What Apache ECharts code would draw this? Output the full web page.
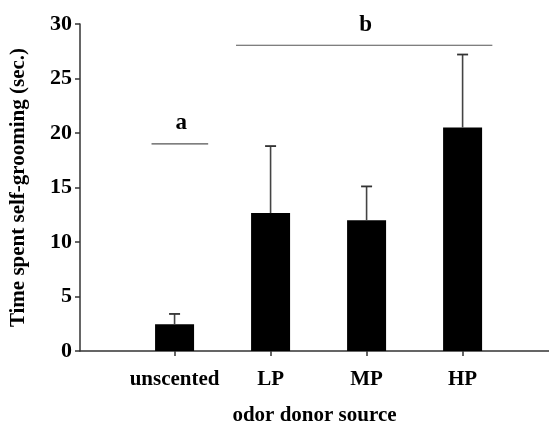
<!DOCTYPE html>
<html>
<head>
<meta charset="utf-8">
<script src="https://cdn.jsdelivr.net/npm/echarts@6/dist/echarts.min.js"></script>
<style>
html,body{margin:0;padding:0;background:#fff;}
#main{width:549px;height:431px;}
</style>
</head>
<body>
<div id="main"></div>
<script>
const categories = ['unscented', 'LP', 'MP', 'HP'];
const means = [2.45, 12.65, 12.0, 20.5];
const errTops = [3.4, 18.8, 15.1, 27.2];
const yTicks = [0, 5, 10, 15, 20, 25, 30];
const groupLabels = ['a', 'b'];
const groupStart = [0.76, 1.64];
const groupEnd = [1.35, 4.31];
const groupY = [19.0, 28.05];

const FONT = '"Liberation Serif", "DejaVu Serif", serif';
const positions = categories.map((c, i) => i + 1);

const chart = echarts.init(document.getElementById('main'), null, {renderer: 'canvas'});

const option = {
  animation: false,
  backgroundColor: '#fff',
  grid: {left: 78, right: 0, top: 24, bottom: 71.5, containLabel: false},
  xAxis: {
    type: 'value',
    min: 0.015,
    max: 4.9,
    name: 'odor donor source',
    nameLocation: 'middle',
    nameGap: 54,
    nameTextStyle: {fontFamily: FONT, fontWeight: 'bold', fontSize: 21, color: '#000'},
    axisLine: {show: true, lineStyle: {color: '#333', width: 1.5}},
    axisTick: {show: true, customValues: positions, length: 5, lineStyle: {color: '#333', width: 1.5}},
    axisLabel: {
      customValues: positions,
      formatter: v => categories[Math.round(v) - 1] || '',
      fontFamily: FONT, fontWeight: 'bold', fontSize: 21, color: '#000', margin: 18
    },
    splitLine: {show: false}
  },
  yAxis: {
    type: 'value',
    min: 0,
    max: 30,
    interval: 5,
    name: 'Time spent self-grooming (sec.)',
    nameLocation: 'middle',
    nameGap: 51,
    nameTextStyle: {fontFamily: FONT, fontWeight: 'bold', fontSize: 21, color: '#000'},
    axisLine: {show: true, lineStyle: {color: '#333', width: 1.5}},
    axisTick: {show: true, length: 5, lineStyle: {color: '#333', width: 1.5}},
    axisLabel: {
      customValues: yTicks,
      fontFamily: FONT, fontWeight: 'bold', fontSize: 22, color: '#000', margin: 8
    },
    splitLine: {show: false}
  },
  series: [
    {
      type: 'bar',
      data: positions.map((p, i) => [p, means[i]]),
      barWidth: 39,
      itemStyle: {color: '#000'},
      z: 2
    },
    {
      type: 'custom',
      data: positions.map((p, i) => [p, means[i], errTops[i]]),
      renderItem: function (params, api) {
        const x = api.value(0);
        const base = api.coord([x, api.value(1)]);
        const top = api.coord([x, api.value(2)]);
        const cap = 5.5;
        return {
          type: 'group',
          children: [
            {type: 'line', shape: {x1: base[0], y1: base[1], x2: top[0], y2: top[1]},
             style: {stroke: '#444', lineWidth: 1.6}},
            {type: 'line', shape: {x1: top[0] - cap, y1: top[1], x2: top[0] + cap, y2: top[1]},
             style: {stroke: '#333', lineWidth: 1.8}}
          ]
        };
      },
      z: 3
    },
    {
      type: 'custom',
      data: groupLabels.map((g, i) => [groupStart[i], groupEnd[i], groupY[i], i]),
      renderItem: function (params, api) {
        const p1 = api.coord([api.value(0), api.value(2)]);
        const p2 = api.coord([api.value(1), api.value(2)]);
        const label = groupLabels[api.value(3)];
        return {
          type: 'group',
          children: [
            {type: 'line', shape: {x1: p1[0], y1: p1[1], x2: p2[0], y2: p2[1]},
             style: {stroke: '#555', lineWidth: 1.2}},
            {type: 'text', x: (p1[0] + p2[0]) / 2 + 1.5, y: p1[1] - 9,
             style: {text: label, fontFamily: FONT, fontWeight: 'bold', fontSize: 23,
                     fill: '#000', align: 'center', verticalAlign: 'bottom'}}
          ]
        };
      },
      z: 3
    }
  ]
};
chart.setOption(option);
</script>
</body>
</html>
